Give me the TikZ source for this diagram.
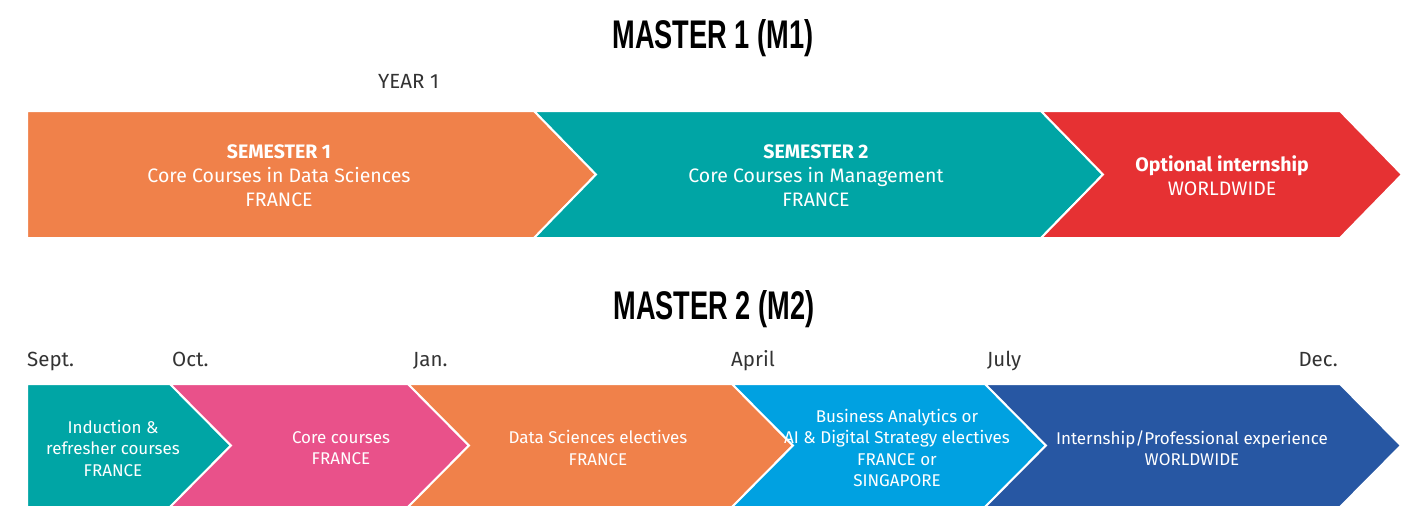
\documentclass[tikz,border=0pt]{standalone}
\usepackage{fontspec}
\setmainfont{Fira Sans}
\newfontfamily\titlefont[FakeStretch=0.68]{Liberation Sans Bold}
\definecolor{morange}{HTML}{F0814A}
\definecolor{mteal}{HTML}{00A5A5}
\definecolor{mred}{HTML}{E63133}
\definecolor{mpink}{HTML}{E9518A}
\definecolor{mlblue}{HTML}{00A1E1}
\definecolor{mdblue}{HTML}{2757A3}
\definecolor{labelgray}{HTML}{333333}

\begin{document}
\begin{tikzpicture}[x=1pt, y=-1pt,
  band/.style={draw=white, line width=2pt},
  toptext/.style={text=white, align=center, font=\fontsize{19.5}{24}\selectfont},
  bottext/.style={text=white, align=center, font=\fontsize{17}{21.5}\selectfont},
  month/.style={text=labelgray, anchor=base west, inner sep=0pt, font=\fontsize{20.5}{24}\selectfont},
  title/.style={anchor=base, inner sep=0pt, font=\titlefont\fontsize{40}{42}\selectfont}]
  \useasboundingbox (0,0) rectangle (1410,506);

  % first year
  \node[title] (m1) at (713,48) {MASTER 1 (M1)};
  \node[month] (year1) at (378,88) {YEAR 1};
  \fill[morange, band] (27,111) -- (534,111) -- (596,174.5) -- (534,238) -- (27,238) -- cycle;
  \foreach \xa/\xb/\col in {534/1041/mteal, 1041/1340/mred}
    \fill[\col, band] (\xa,111) -- (\xb,111) -- (\xb+62,174.5) -- (\xb,238) -- (\xa,238) -- (\xa+62,174.5) -- cycle;
  \node[toptext] (sem1) at (279,176) {\textbf{SEMESTER 1}\\Core Courses in Data Sciences\\FRANCE};
  \node[toptext] (sem2) at (816,176) {\textbf{SEMESTER 2}\\Core Courses in Management\\FRANCE};
  \node[toptext] (intern1) at (1222,176) {\textbf{Optional internship}\\WORLDWIDE};

  % second year
  \node[title] (m2) at (714,319) {MASTER 2 (M2)};
  \foreach \x/\m/\name in {27/Sept./sept, 172/Oct./oct, 413/Jan./jan, 731/April/apr, 987/July/jul}
    \node[month] (\name) at (\x,366) {\m};
  \node[month, anchor=base east] (dec) at (1338,366) {Dec.};
  \fill[mteal, band] (27,384) -- (170,384) -- (231,445.5) -- (170,507) -- (27,507) -- cycle;
  \foreach \xa/\xb/\col in {170/408/mpink, 408/732/morange, 732/985/mlblue, 985/1340/mdblue}
    \fill[\col, band] (\xa,384) -- (\xb,384) -- (\xb+61,445.5) -- (\xb,507) -- (\xa,507) -- (\xa+61,445.5) -- cycle;
  \node[bottext] (induct) at (113,448) {Induction \&\\refresher courses\\FRANCE};
  \node[bottext] (core) at (341,448) {Core courses\\FRANCE};
  \node[bottext] (dselect) at (598,448) {Data Sciences electives\\FRANCE};
  \node[bottext] (baelect) at (897,448) {Business Analytics or\\AI \& Digital Strategy electives\\FRANCE or\\SINGAPORE};
  \node[bottext] (intern2) at (1192,448) {Internship/Professional experience\\WORLDWIDE};
\end{tikzpicture}
\end{document}
